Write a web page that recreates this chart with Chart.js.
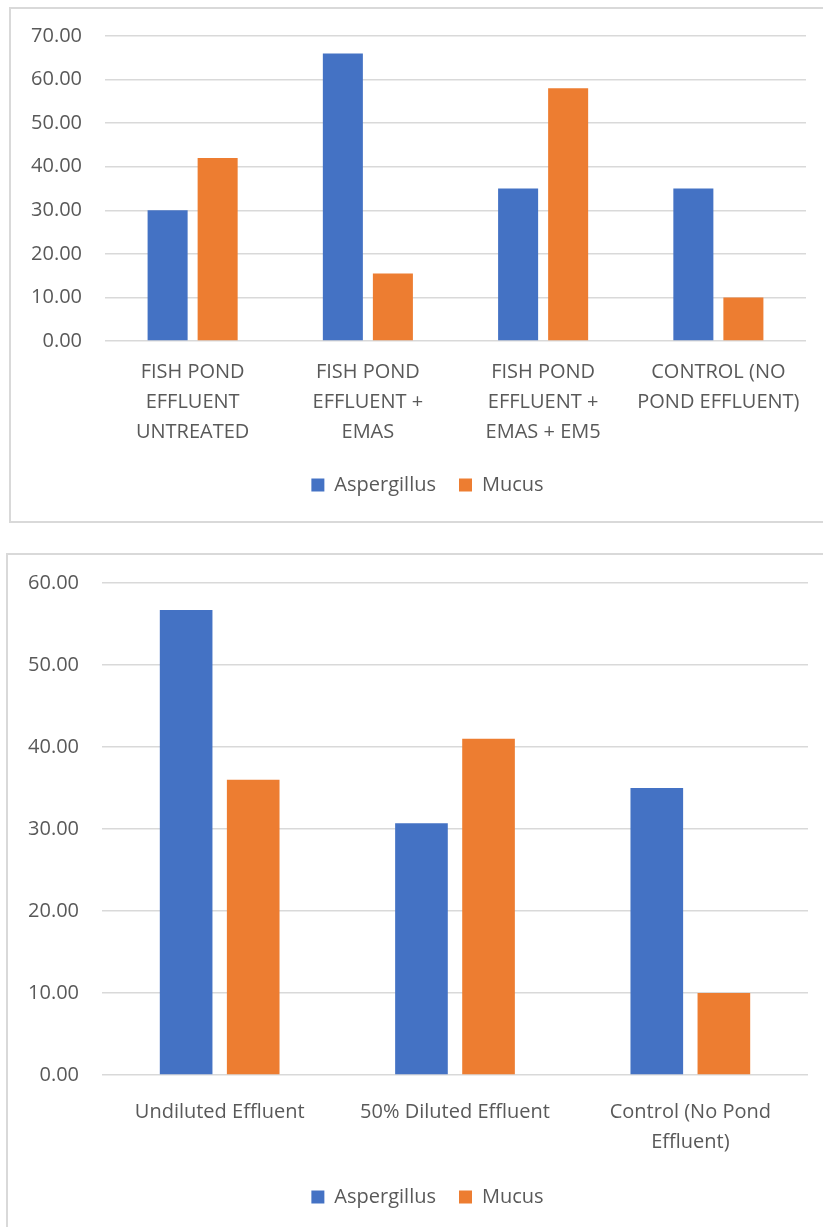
<!DOCTYPE html>
<html>
<head>
<meta charset="utf-8">
<script src="https://cdn.jsdelivr.net/npm/chart.js@4/dist/chart.umd.min.js"></script>
<style>
  html, body { margin: 0; padding: 0; background: #fff; overflow: hidden; width: 823px; height: 1227px; }
  .panel { position: absolute; border: 2px solid #d9d9d9; background: #fff; }
  #panelTop { left: 9px; top: 7px; width: 833px; height: 512px; }
  #panelBottom { left: 6px; top: 553px; width: 839px; height: 690px; }
  canvas { display: block; }
</style>
</head>
<body>
<div class="panel" id="panelTop"><canvas id="chartTop" width="833" height="512"></canvas></div>
<div class="panel" id="panelBottom"><canvas id="chartBottom" width="839" height="690"></canvas></div>
<script>
// Treatment groups and counts, first chart
const treatmentLabels = [
  ['FISH POND', 'EFFLUENT', 'UNTREATED'],
  ['FISH POND', 'EFFLUENT +', 'EMAS'],
  ['FISH POND', 'EFFLUENT +', 'EMAS + EM5'],
  ['CONTROL (NO', 'POND EFFLUENT)']
];
const treatmentAspergillus = [30, 66, 35, 35];
const treatmentMucus = [42, 15.5, 58, 10];
const treatmentTicks = [0, 10, 20, 30, 40, 50, 60, 70];

// Dilution groups and counts, second chart
const dilutionLabels = [
  'Undiluted Effluent',
  '50% Diluted Effluent',
  ['Control (No Pond', 'Effluent)']
];
const dilutionAspergillus = [56.7, 30.7, 35];
const dilutionMucus = [36, 41, 10];
const dilutionTicks = [0, 10, 20, 30, 40, 50, 60];

const seriesNames = ['Aspergillus', 'Mucus'];

const FONT = 'Open Sans';
const TEXT = '#595959';

function buildChart(id, labels, blue, orange, ticks, g) {
  return new Chart(document.getElementById(id), {
    type: 'bar',
    data: {
      labels: labels,
      datasets: [
        { label: seriesNames[0], data: blue, backgroundColor: '#4472C4', yAxisID: 'y',
          barPercentage: g.barPct, categoryPercentage: g.catPct },
        { label: seriesNames[1], data: orange, backgroundColor: '#ED7D31', yAxisID: 'y',
          barPercentage: g.barPct, categoryPercentage: g.catPct }
      ]
    },
    options: {
      responsive: false,
      animation: false,
      devicePixelRatio: 1,
      layout: { padding: { top: g.top, left: 0, right: 0, bottom: g.padBottom } },
      plugins: {
        legend: {
          position: 'bottom',
          labels: { boxWidth: 13, boxHeight: 13, padding: 23, color: TEXT, font: { family: FONT, size: 20 } }
        },
        tooltip: { enabled: false }
      },
      scales: {
        x: {
          grid: { display: false, drawTicks: false },
          border: { display: false },
          ticks: { padding: g.xPad, color: TEXT, maxRotation: 0, autoSkip: false,
                   font: { family: FONT, size: 20, lineHeight: 1.5 } },
          afterFit(s) { s.height = g.xHeight; }
        },
        y: {
          min: ticks[0],
          max: ticks[ticks.length - 1],
          afterBuildTicks(s) { s.ticks = ticks.map(v => ({ value: v })); },
          grid: { color: '#d9d9d9', lineWidth: 1.5, drawTicks: false },
          border: { display: false },
          ticks: { padding: 23, color: TEXT, font: { family: FONT, size: 20 },
                   callback: v => Number(v).toFixed(2) },
          afterFit(s) {
            s.width = g.left;
            // the plot top is set by the layout padding alone
            s.paddingTop = 0;
            s.paddingBottom = 0;
          }
        },
        pad: {
          type: 'linear',
          position: 'right',
          grid: { display: false, drawTicks: false },
          border: { display: false },
          ticks: { display: false },
          afterFit(s) { s.width = g.right; }
        }
      }
    }
  });
}

buildChart('chartTop', treatmentLabels, treatmentAspergillus, treatmentMucus, treatmentTicks, {
  left: 94, right: 38, top: 27, xPad: 16, xHeight: 111, padBottom: 16,
  barPct: 0.8, catPct: 0.571
});

buildChart('chartBottom', dilutionLabels, dilutionAspergillus, dilutionMucus, dilutionTicks, {
  left: 94, right: 39, top: 28, xPad: 22, xHeight: 89, padBottom: 28,
  barPct: 0.785, catPct: 0.57
});
</script>
</body>
</html>
